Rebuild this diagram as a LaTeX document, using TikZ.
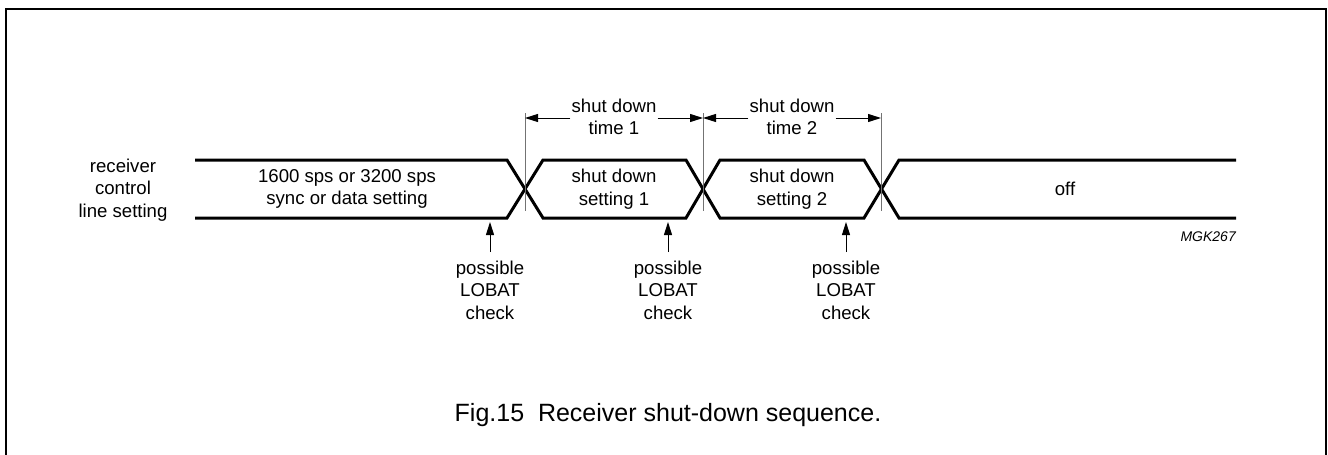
\documentclass[tikz,border=0pt]{standalone}
\usepackage{fontspec}
\setmainfont{Liberation Sans}
\usetikzlibrary{arrows.meta}
\begin{document}
\begin{tikzpicture}[x=1pt,y=-1pt,
  lbl/.style={align=center,inner sep=0pt,font=\fontsize{18.6}{22.5}\selectfont},
  sig/.style={line width=3pt,line join=miter},
  guide/.style={line width=1pt,draw=black!55},
  dim/.style={line width=1pt,-{Triangle[length=13pt,width=8pt]}},
  frame/.style={line width=2.2pt}]
\useasboundingbox (0,0) rectangle (1328,455);
% frame
\draw[frame] (6,456) -- (6,9) -- (1326,9) -- (1326,456);
% signal
\draw[sig] (195,160) -- (507,160) -- (543,218) -- (686,218) -- (720,160) -- (864,160) -- (899,218) -- (1236,218);
\draw[sig] (195,218) -- (507,218) -- (543,160) -- (686,160) -- (720,218) -- (864,218) -- (899,160) -- (1236,160);
% guides
\coordinate (g1t) at (525,113); \coordinate (g1b) at (525,211);
\coordinate (g2t) at (703,113); \coordinate (g2b) at (703,211);
\coordinate (g3t) at (881,113); \coordinate (g3b) at (881,211);
\draw[guide] (g1t) -- (g1b);
\draw[guide] (g2t) -- (g2b);
\draw[guide] (g3t) -- (g3b);
% dimension labels
\node[lbl] (t1) at (614,117) {shut down\\time 1};
\node[lbl] (t2) at (792,117) {shut down\\time 2};
\coordinate (a1l) at (525,118); \coordinate (a1r) at (703,118);
\coordinate (a2l) at (703,118); \coordinate (a2r) at (881,118);
\draw[dim] (t1.west |- a1l) ++(-1,0) coordinate (s1l) -- (a1l);
\draw[dim] (t1.east |- a1r) ++(1,0) coordinate (s1r) -- (a1r);
\draw[dim] (t2.west |- a2l) ++(-1,0) coordinate (s2l) -- (a2l);
\draw[dim] (t2.east |- a2r) ++(1,0) coordinate (s2r) -- (a2r);
% texts
\node[lbl] (rcv) at (123,190) {receiver\\control\\line setting};
\node[lbl] (s0) at (347,189) {1600 sps or 3200 sps\\sync or data setting};
\node[lbl] (s1) at (614,189) {shut down\\setting 1};
\node[lbl] (s2) at (792,189) {shut down\\setting 2};
\node[lbl] (off) at (1065,189) {off};
\node[anchor=base east,inner sep=0pt,font=\fontsize{14}{16}\selectfont\itshape] (mgk) at (1236,241) {MGK267};
% lobat checks
\node[lbl] (l1) at (490,290) {possible\\LOBAT\\check};
\node[lbl] (l2) at (668,290) {possible\\LOBAT\\check};
\node[lbl] (l3) at (846,290) {possible\\LOBAT\\check};
\coordinate (p1) at (490,222); \coordinate (p2) at (668,222); \coordinate (p3) at (846,222);
\coordinate (q1) at (490,252); \coordinate (q2) at (668,252); \coordinate (q3) at (846,252);
\draw[dim] (q1) -- (p1);
\draw[dim] (q2) -- (p2);
\draw[dim] (q3) -- (p3);
% caption
\node[inner sep=0pt,font=\fontsize{25}{30}\selectfont] (cap) at (668,415) {Fig.15\ \ Receiver shut-down sequence.};
\end{tikzpicture}
\end{document}
